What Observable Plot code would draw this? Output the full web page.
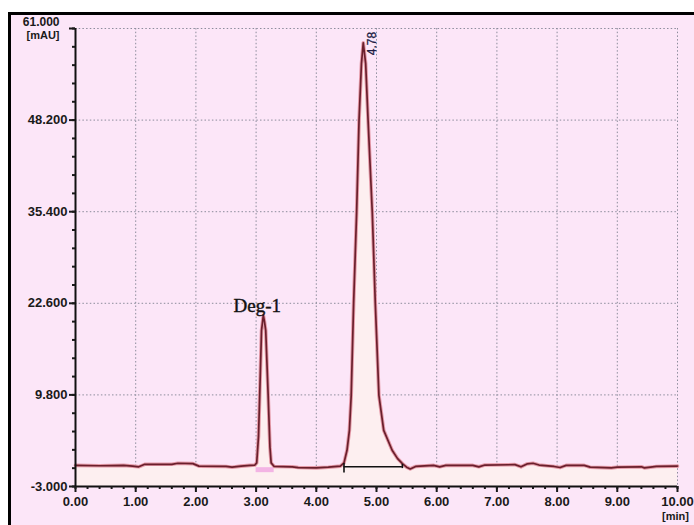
<!DOCTYPE html>
<html>
<head>
<meta charset="utf-8">
<script src="https://cdn.jsdelivr.net/npm/d3@7"></script>
<script src="https://cdn.jsdelivr.net/npm/@observablehq/plot@0.6"></script>
<style>
  html, body { margin: 0; padding: 0; background: #fff; }
  #wrap { position: relative; width: 694px; height: 525px; overflow: hidden; }
  #frame { position: absolute; left: 8px; top: 12px; width: 700px; height: 530px;
           background: #fce6f8; border-top: 3px solid #000; border-left: 3px solid #000; }
  #chart { position: absolute; left: 0; top: 0; }
</style>
</head>
<body>
<div id="wrap"><div id="frame"></div><div id="chart"></div></div>
<script>
// Retention time (min) and detector signal (mAU)
const times = [0.00, 0.40, 0.80, 0.95, 1.05, 1.15, 1.60, 1.70, 1.95, 2.05, 2.50, 2.60, 2.75, 2.90, 2.98,
  3.01, 3.04, 3.06, 3.09, 3.12, 3.14, 3.16, 3.20, 3.23, 3.25, 3.30, 3.60, 3.70, 4.00, 4.20, 4.40,
  4.46, 4.51, 4.55, 4.58, 4.62, 4.67, 4.71, 4.75, 4.78, 4.82, 4.86, 4.93, 4.98, 5.04, 5.12, 5.26, 5.35, 5.43,
  5.50, 5.56, 5.65, 5.95, 6.05, 6.15, 6.60, 6.70, 6.80, 7.30, 7.40, 7.50, 7.60, 7.70, 7.95, 8.05, 8.15,
  8.45, 8.55, 8.90, 9.00, 9.40, 9.45, 9.55, 9.65, 10.00];
const signal = [-0.05, -0.10, -0.05, -0.15, -0.25, 0.10, 0.10, 0.25, 0.20, -0.15, -0.20, -0.30, -0.15, -0.05, 0.00,
  0.3, 4.0, 9.8, 18.8, 20.9, 20.0, 18.8, 9.8, 2.5, 0.3, -0.20, -0.25, -0.35, -0.40, -0.30, -0.15,
  0.3, 2.06, 4.85, 9.74, 22.6, 35.3, 48.2, 56.1, 59.0, 56.1, 48.2, 35.3, 22.6, 9.74, 4.85, 2.06, 0.9, 0.2,
  -0.30, -0.55, -0.20, -0.05, -0.25, -0.05, -0.05, -0.25, 0.00, 0.05, -0.25, 0.15, 0.25, 0.00, -0.20, -0.35, -0.05,
  -0.05, -0.30, -0.40, -0.30, -0.25, -0.40, -0.30, -0.20, -0.15];

const xMajor = [0, 1, 2, 3, 4, 5, 6, 7, 8, 9, 10];
const xMinor = d3.range(0, 51).map(i => i * 0.2);
const yMajor = [-3.0, 9.8, 22.6, 35.4, 48.2, 61.0];
const yMinor = d3.range(0, 26).map(i => -3 + i * 2.56);

const peakLabels = [{t: 3.02, v: 22.3, text: "Deg-1"}];
const rtLabels = [{t: 4.92, v: 58.9, text: "4.78"}];
const integration = [{x1: 4.46, x2: 5.43, y: -0.25}];
const integrationTicks = [{x: 4.46, y1: 0.2, y2: -1.1}, {x: 5.43, y1: 0.1, y2: -0.5}];
const deg1Marker = [{x1: 3.00, x2: 3.30, y: -0.65}];

const data = times.map((t, i) => ({t, v: signal[i]}));

const chart = Plot.plot({
  width: 694,
  height: 525,
  marginLeft: 75,
  marginRight: 17,
  marginTop: 28,
  marginBottom: 39,
  x: {type: "linear", domain: [0, 10]},
  y: {type: "linear", domain: [-3, 61]},
  style: {background: "transparent", fontFamily: "Liberation Sans, Arial, sans-serif", fontSize: "13px", color: "#1a1a1a"},
  marks: [
    Plot.gridX(xMajor.slice(1), {stroke: "#8c8c9c", strokeOpacity: 1, strokeDasharray: "1.5,2.2", strokeWidth: 1}),
    Plot.gridY(yMajor.slice(1), {stroke: "#8c8c9c", strokeOpacity: 1, strokeDasharray: "1.5,2.2", strokeWidth: 1}),
    Plot.areaY(data, {x: "t", y1: -3, y2: "v", fill: "#fdeff0"}),
    Plot.ruleY(deg1Marker, {y: "y", x1: "x1", x2: "x2", stroke: "#f3b4e4", strokeWidth: 5}),
    Plot.line(data, {x: "t", y: "v", stroke: "#e49aa8", strokeWidth: 3.6}),
    Plot.line(data, {x: "t", y: "v", stroke: "#6a1f2c", strokeWidth: 1.7}),
    Plot.ruleY(integration, {y: "y", x1: "x1", x2: "x2", stroke: "#111", strokeWidth: 1.6}),
    Plot.ruleX(integrationTicks, {x: "x", y1: "y1", y2: "y2", stroke: "#111", strokeWidth: 1.6}),
    Plot.ruleX([0], {stroke: "#111", strokeWidth: 2}),
    Plot.ruleY([-3], {stroke: "#111", strokeWidth: 2}),
    Plot.axisX(xMinor, {tickSize: 3, strokeWidth: 2, tickFormat: () => "", label: null}),
    Plot.axisX(xMajor, {tickSize: 6, strokeWidth: 2, tickPadding: 4, fontWeight: "bold", fontSize: 13,
      tickFormat: d => d.toFixed(2), label: null}),
    Plot.axisY(yMinor, {tickSize: 3, strokeWidth: 2, tickFormat: () => "", label: null}),
    Plot.axisY(yMajor, {tickSize: 6, strokeWidth: 2, tickPadding: 2, fontWeight: "bold", fontSize: 13,
      tickFormat: d => d === 61 ? "" : d.toFixed(3), label: null}),
    Plot.text(["61.000"], {x: 0, y: 61, dx: -16, dy: -6, textAnchor: "end", fontWeight: "bold", fontSize: 12}),
    Plot.text(["[mAU]"], {x: 0, y: 61, dx: -16, dy: 7, textAnchor: "end", fontWeight: "bold", fontSize: 11}),
    Plot.text(["[min]"], {x: 10, y: -3, dx: -2, dy: 30, textAnchor: "middle", fontWeight: "bold", fontSize: 11}),
    Plot.text(peakLabels, {x: "t", y: "v", text: "text", fontFamily: "Liberation Serif, Times New Roman, serif",
      fontSize: 19, fill: "#111", stroke: "#111", strokeWidth: 0.4}),
    Plot.text(rtLabels, {x: "t", y: "v", text: "text", rotate: -90, fontSize: 12, fill: "#1c1c44",
      stroke: "#1c1c44", strokeWidth: 0.3})
  ]
});
document.getElementById("chart").appendChild(chart);
</script>
</body>
</html>
